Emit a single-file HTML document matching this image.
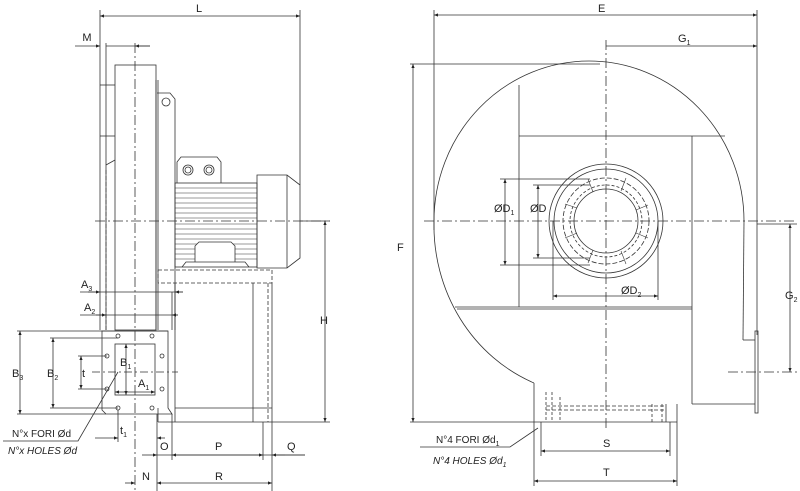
<!DOCTYPE html>
<html><head><meta charset="utf-8"><style>
html,body{margin:0;padding:0;background:#fff}
svg{display:block}
text{font-family:"Liberation Sans",sans-serif;font-size:11px;fill:#222}
.s{fill:#222;font-size:7px}
</style></head><body>
<svg width="800" height="491" viewBox="0 0 800 491" xmlns="http://www.w3.org/2000/svg">
<defs><marker id="a" viewBox="0 0 10 10" refX="10" refY="5" markerWidth="7" markerHeight="5" orient="auto-start-reverse"><path d="M0,1 L10,5 L0,9z" fill="#222"/></marker></defs>
<g stroke="#333" stroke-width="0.8" fill="none">
<!-- LEFT VIEW -->
<!-- centerlines -->
<line x1="135" y1="43" x2="135" y2="491" stroke-dasharray="10,3,2,3"/>
<line x1="95" y1="221" x2="330" y2="221" stroke-dasharray="10,3,2,3"/>
<!-- L -->
<line x1="100" y1="10" x2="100" y2="330"/>
<line x1="300" y1="10" x2="300" y2="185"/>
<line x1="100" y1="16" x2="300" y2="16" marker-start="url(#a)" marker-end="url(#a)"/>
<!-- M -->
<line x1="106" y1="43" x2="106" y2="330"/>
<line x1="75" y1="46" x2="100" y2="46" marker-end="url(#a)"/>
<line x1="106" y1="46" x2="150" y2="46"/>
<line x1="150" y1="46" x2="135" y2="46" marker-end="url(#a)"/>
<!-- inlet flange -->
<line x1="106" y1="85" x2="115" y2="85"/><line x1="100" y1="136" x2="115" y2="136"/>
<line x1="100" y1="85" x2="106" y2="85"/>
<line x1="106" y1="165" x2="115" y2="160"/>
<line x1="106" y1="170" x2="106" y2="330" stroke-dasharray="4,2"/>
<!-- impeller housing -->
<rect x="115" y="65" width="41" height="265"/>
<line x1="156" y1="80" x2="156" y2="330"/><line x1="158" y1="80" x2="158" y2="330"/>
<!-- bracket -->
<path d="M157,93 L170,93 L175,99 L175,330"/>
<circle cx="166" cy="102" r="4"/>
<!-- motor -->
<path d="M177,183 L177,162 L181,157 L217,157 L221,162 L221,183"/>
<circle cx="188" cy="170" r="5"/><circle cx="188" cy="170" r="3"/>
<circle cx="209" cy="170" r="5"/><circle cx="209" cy="170" r="3"/>
<rect x="175" y="183" width="82" height="84"/>
<g stroke-width="0.6">
<line x1="175" y1="188" x2="257" y2="188"/><line x1="175" y1="193" x2="257" y2="193"/><line x1="175" y1="198" x2="257" y2="198"/><line x1="175" y1="203" x2="257" y2="203"/><line x1="175" y1="208" x2="257" y2="208"/><line x1="175" y1="213" x2="257" y2="213"/><line x1="175" y1="218" x2="257" y2="218"/><line x1="175" y1="224" x2="257" y2="224"/><line x1="175" y1="229" x2="257" y2="229"/><line x1="175" y1="234" x2="257" y2="234"/><line x1="175" y1="239" x2="257" y2="239"/><line x1="175" y1="244" x2="257" y2="244"/><line x1="175" y1="249" x2="257" y2="249"/><line x1="175" y1="254" x2="257" y2="254"/><line x1="175" y1="259" x2="257" y2="259"/>
</g>
<path d="M195,262 L195,246 L199,242 L231,242 L235,246 L235,262" fill="#fff"/>
<path d="M182,267 L186,262 L245,262 L249,267" fill="none"/>
<path d="M257,175 L287,175 L300,185 L300,258 L287,268 L257,268 Z"/>
<line x1="287" y1="175" x2="287" y2="268"/>
<!-- base -->
<rect x="158" y="270" width="114" height="13" stroke-dasharray="4,2"/>
<line x1="253" y1="283" x2="253" y2="422"/>
<line x1="268" y1="283" x2="268" y2="422" stroke-dasharray="4,2"/>
<line x1="272" y1="283" x2="272" y2="422"/>
<line x1="175" y1="283" x2="175" y2="422"/>
<line x1="158" y1="422" x2="272" y2="422"/>
<line x1="175" y1="408" x2="272" y2="408"/>
<line x1="158" y1="408" x2="158" y2="422"/>
<!-- H -->
<line x1="300" y1="221" x2="330" y2="221"/>
<line x1="325" y1="221" x2="325" y2="422" marker-start="url(#a)" marker-end="url(#a)"/>
<line x1="272" y1="422" x2="330" y2="422"/>
<!-- A3 A2 -->
<line x1="80" y1="292" x2="183" y2="292"/>
<line x1="88" y1="292" x2="100" y2="292" marker-end="url(#a)"/>
<line x1="183" y1="292" x2="175" y2="292" marker-end="url(#a)"/>
<line x1="172" y1="292" x2="172" y2="330"/>
<line x1="80" y1="315" x2="178" y2="315"/>
<line x1="96" y1="315" x2="106" y2="315" marker-end="url(#a)"/>
<line x1="178" y1="315" x2="172" y2="315" marker-end="url(#a)"/>
<!-- flange -->
<path d="M102,331 L168,331 L168,408 L172,414 L106,414 L102,410 Z"/>
<rect x="115" y="344" width="40" height="51"/>
<g fill="#fff"><circle cx="118" cy="336" r="2"/><circle cx="152" cy="336" r="2"/><circle cx="107" cy="356" r="2"/><circle cx="162" cy="356" r="2"/><circle cx="107" cy="389" r="2"/><circle cx="162" cy="389" r="2"/><circle cx="118" cy="408" r="2"/><circle cx="152" cy="408" r="2"/></g>
<line x1="92" y1="372" x2="178" y2="372" stroke-dasharray="8,3,2,3"/>
<line x1="17" y1="331" x2="168" y2="331"/><line x1="17" y1="414" x2="106" y2="414"/>
<line x1="20" y1="331" x2="20" y2="414" marker-start="url(#a)" marker-end="url(#a)"/>
<line x1="50" y1="338" x2="118" y2="338"/><line x1="50" y1="408" x2="118" y2="408"/>
<line x1="53" y1="338" x2="53" y2="408" marker-start="url(#a)" marker-end="url(#a)"/>
<line x1="78" y1="356" x2="107" y2="356"/><line x1="78" y1="389" x2="107" y2="389"/>
<line x1="81" y1="356" x2="81" y2="389" marker-start="url(#a)" marker-end="url(#a)"/>
<line x1="126" y1="344" x2="126" y2="395" marker-start="url(#a)" marker-end="url(#a)"/>
<line x1="115" y1="392" x2="155" y2="392" marker-start="url(#a)" marker-end="url(#a)"/>
<!-- t1 -->
<line x1="118" y1="410" x2="118" y2="442"/><line x1="157" y1="414" x2="157" y2="491"/>
<line x1="95" y1="438" x2="118" y2="438" marker-end="url(#a)"/>
<line x1="165" y1="438" x2="157" y2="438" marker-end="url(#a)"/>
<!-- O P Q -->
<line x1="172" y1="414" x2="172" y2="460"/>
<line x1="263" y1="422" x2="263" y2="460"/>
<line x1="142" y1="455" x2="157" y2="455" marker-end="url(#a)"/>
<line x1="157" y1="455" x2="305" y2="455"/>
<line x1="172" y1="455" x2="263" y2="455" marker-start="url(#a)" marker-end="url(#a)"/>
<line x1="272" y1="455" x2="305" y2="455"/>
<line x1="285" y1="455" x2="272" y2="455" marker-end="url(#a)"/>
<!-- N R -->
<line x1="272" y1="422" x2="272" y2="491"/>
<line x1="125" y1="483" x2="135" y2="483" marker-end="url(#a)"/>
<line x1="157" y1="483" x2="272" y2="483" marker-start="url(#a)" marker-end="url(#a)"/>
<!-- leader -->
<path d="M3,441 L78,441 L118,372" />

<!-- RIGHT VIEW -->
<line x1="424" y1="221" x2="797" y2="221" stroke-dasharray="10,3,2,3"/>
<line x1="606" y1="40" x2="606" y2="430" stroke-dasharray="10,3,2,3"/>
<line x1="434" y1="10" x2="434" y2="230"/>
<line x1="757" y1="10" x2="757" y2="335"/>
<line x1="434" y1="15" x2="757" y2="15" marker-start="url(#a)" marker-end="url(#a)"/>
<line x1="606" y1="46" x2="757" y2="46" marker-end="url(#a)"/>
<!-- spiral -->
<path d="M744,221 A152,157 0 0 0 434,221 A160,170 0 0 0 534,383"/>
<line x1="744" y1="221" x2="743" y2="340"/>
<line x1="743" y1="340" x2="755" y2="340"/>
<rect x="755" y="331" width="3" height="82"/>
<line x1="728" y1="372" x2="797" y2="372" stroke-dasharray="10,3,2,3"/>
<line x1="757" y1="224" x2="797" y2="224"/>
<line x1="790" y1="224" x2="790" y2="372" marker-start="url(#a)" marker-end="url(#a)"/>
<line x1="519" y1="85" x2="519" y2="307"/>
<line x1="519" y1="136" x2="725" y2="136"/>
<line x1="455" y1="307" x2="692" y2="307"/><line x1="457" y1="309" x2="692" y2="309"/>
<line x1="692" y1="136" x2="692" y2="404"/>
<line x1="692" y1="404" x2="755" y2="404"/>
<!-- outlet -->
<line x1="534" y1="383" x2="534" y2="422"/>
<line x1="677" y1="404" x2="677" y2="422"/>
<line x1="534" y1="422" x2="677" y2="422"/>
<line x1="546" y1="392" x2="546" y2="422" stroke-dasharray="3,2"/><line x1="552" y1="392" x2="552" y2="422" stroke-dasharray="3,2"/>
<line x1="560" y1="397" x2="560" y2="422" stroke-dasharray="3,2"/>
<line x1="652" y1="404" x2="652" y2="422" stroke-dasharray="3,2"/><line x1="662" y1="404" x2="662" y2="422" stroke-dasharray="3,2"/><line x1="666" y1="404" x2="666" y2="422"/>
<line x1="546" y1="406" x2="666" y2="406" stroke-dasharray="4,2"/><line x1="546" y1="410" x2="666" y2="410" stroke-dasharray="4,2"/>
<!-- F -->
<line x1="410" y1="64" x2="600" y2="64"/>
<line x1="410" y1="422" x2="534" y2="422"/>
<line x1="413" y1="64" x2="413" y2="422" marker-start="url(#a)" marker-end="url(#a)"/>
<!-- inlet -->
<circle cx="606" cy="221" r="57"/>
<circle cx="606" cy="221" r="52"/>
<circle cx="606" cy="221" r="43" stroke-dasharray="5,2"/>
<circle cx="606" cy="221" r="36" stroke-dasharray="3,2"/>
<circle cx="606" cy="221" r="32"/>
<g stroke-width="0.6"><line x1="588" y1="179" x2="593" y2="192"/><line x1="626" y1="178" x2="621" y2="191"/><line x1="565" y1="204" x2="577" y2="208"/><line x1="648" y1="205" x2="636" y2="210"/><line x1="565" y1="238" x2="577" y2="233"/><line x1="648" y1="238" x2="636" y2="233"/><line x1="588" y1="263" x2="593" y2="250"/><line x1="626" y1="264" x2="621" y2="251"/></g>
<line x1="500" y1="179" x2="590" y2="179"/><line x1="500" y1="265" x2="590" y2="265"/>
<line x1="505" y1="179" x2="505" y2="265" marker-start="url(#a)" marker-end="url(#a)"/>
<line x1="533" y1="185" x2="590" y2="185"/><line x1="533" y1="258" x2="590" y2="258"/>
<line x1="538" y1="185" x2="538" y2="258" marker-start="url(#a)" marker-end="url(#a)"/>
<line x1="553" y1="221" x2="553" y2="300"/><line x1="658" y1="221" x2="658" y2="300"/>
<line x1="553" y1="296" x2="658" y2="296" marker-start="url(#a)" marker-end="url(#a)"/>
<!-- S T -->
<line x1="541" y1="422" x2="541" y2="456"/><line x1="670" y1="422" x2="670" y2="456"/>
<line x1="541" y1="451" x2="670" y2="451" marker-start="url(#a)" marker-end="url(#a)"/>
<line x1="534" y1="422" x2="534" y2="486"/><line x1="677" y1="422" x2="677" y2="486"/>
<line x1="534" y1="481" x2="677" y2="481" marker-start="url(#a)" marker-end="url(#a)"/>
<path d="M420,447 L510,447 L538,428"/>
</g>
<!-- labels -->
<text x="199" y="12" text-anchor="middle">L</text>
<text x="87" y="41" text-anchor="middle">M</text>
<text x="81" y="288">A<tspan class="s" dy="3">3</tspan></text>
<text x="84" y="311">A<tspan class="s" dy="3">2</tspan></text>
<text x="12" y="377">B<tspan class="s" dy="3">3</tspan></text>
<text x="47" y="377">B<tspan class="s" dy="3">2</tspan></text>
<text x="82" y="377">t</text>
<text x="120" y="366">B<tspan class="s" dy="3">1</tspan></text>
<text x="138" y="387">A<tspan class="s" dy="3">1</tspan></text>
<text x="320" y="324">H</text>
<text x="120" y="434">t<tspan class="s" dy="3">1</tspan></text>
<text x="160" y="450">O</text>
<text x="215" y="450">P</text>
<text x="287" y="450">Q</text>
<text x="142" y="480">N</text>
<text x="215" y="480">R</text>
<text x="12" y="437" style="font-size:10px">N°x FORI Ød</text>
<text x="8" y="454" style="font-size:10px;font-style:italic">N°x HOLES Ød</text>
<text x="598" y="12">E</text>
<text x="678" y="42">G<tspan class="s" dy="3">1</tspan></text>
<text x="397" y="251">F</text>
<text x="494" y="212">ØD<tspan class="s" dy="3">1</tspan></text>
<text x="530" y="212">ØD</text>
<text x="621" y="294">ØD<tspan class="s" dy="3">2</tspan></text>
<text x="785" y="299">G<tspan class="s" dy="3">2</tspan></text>
<text x="603" y="447">S</text>
<text x="603" y="476">T</text>
<text x="436" y="443" style="font-size:10px">N°4 FORI Ød<tspan class="s" dy="3">1</tspan></text>
<text x="433" y="464" style="font-size:10px;font-style:italic">N°4 HOLES Ød<tspan class="s" dy="3">1</tspan></text>
</svg>
</body></html>
